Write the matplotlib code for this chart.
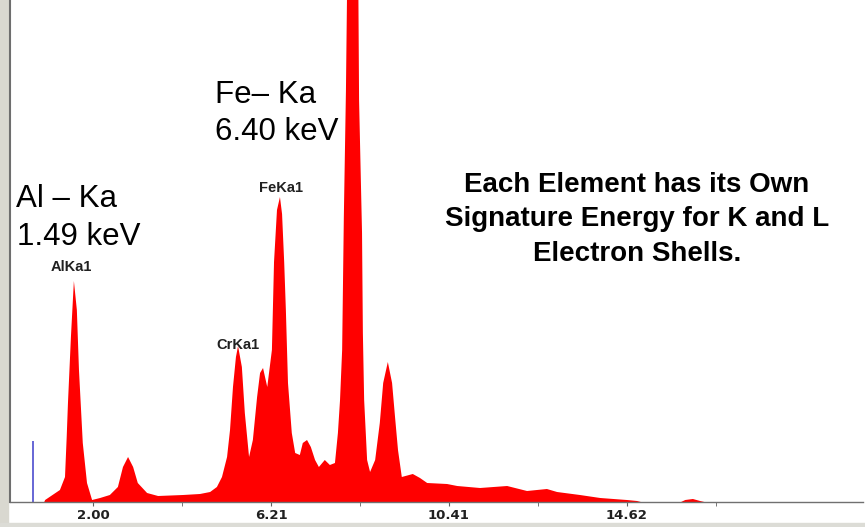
import matplotlib
matplotlib.use("Agg")
import matplotlib.pyplot as plt
from matplotlib.patches import Rectangle

# spectrum: energy (keV) and counts (arbitrary, = pixel height)
energy = [0.00, 0.85, 0.87, 1.22, 1.34, 1.38, 1.41, 1.48, 1.55, 1.62, 1.67, 1.76, 1.86,
          1.98, 2.17, 2.40, 2.59, 2.71, 2.83, 2.95, 3.06, 3.28, 3.54, 4.13, 4.53,
          4.77, 4.93, 5.05, 5.17, 5.24, 5.31, 5.38, 5.43, 5.52, 5.59, 5.69, 5.78,
          5.88, 5.95, 6.02, 6.12, 6.23, 6.28, 6.35, 6.42, 6.47, 6.52, 6.56, 6.61, 6.70,
          6.78, 6.89, 6.96, 7.06, 7.15, 7.25, 7.34, 7.48, 7.60, 7.72, 7.79, 7.84,
          7.89, 7.93, 7.98, 8.03, 8.15, 8.26, 8.29, 8.36, 8.38, 8.41, 8.48, 8.55,
          8.67, 8.78, 8.86, 8.97, 9.07, 9.14, 9.21, 9.30, 9.56, 9.73, 9.90, 10.37,
          10.61, 11.15, 11.79, 12.26, 12.73, 12.97, 13.51, 13.99, 14.62, 14.86, 14.95,
          15.90, 16.00, 16.18, 16.35, 16.45, 20.2]
counts = [0, 0, 2, 12, 25, 65, 99, 165, 221, 192, 132, 59, 19,
          2, 4, 7, 15, 35, 45, 35, 19, 9, 6, 7, 8,
          10, 15, 25, 45, 72, 115, 145, 156, 135, 89, 45, 62,
          105, 129, 134, 115, 152, 240, 292, 305, 288, 240, 192, 119, 69,
          49, 47, 59, 62, 55, 42, 35, 42, 37, 39, 69, 102,
          152, 285, 412, 600, 640, 600, 402, 269, 169, 102, 42, 30,
          42, 79, 119, 140, 119, 85, 52, 25, 28, 24, 19, 18,
          16, 14, 16, 11, 13, 10, 7, 4, 2, 1, 0,
          0, 2, 3, 1, 0, 0]

major_ticks = [2.00, 6.21, 10.41, 14.62]
minor_ticks = [4.105, 8.31, 12.515, 16.725]

# peak labels: (text, energy, counts at label centre)
peak_labels = [("AlKa1", 1.50, 235), ("CrKa1", 5.43, 157), ("FeKa1", 6.44, 314)]

W, H = 865, 527
fig = plt.figure(figsize=(W / 100, H / 100), dpi=100)
ax = fig.add_axes([10 / W, (H - 502) / H, 853 / W, 502 / H])

ax.fill_between(energy, counts, color="#ff0000", lw=0)
ax.vlines(0.58, 0, 61, color="#5a5ad2", lw=1.3)

ax.set_xlim(0.04, 20.2)
ax.set_ylim(0, 502)
for s in ("top", "right"):
    ax.spines[s].set_visible(False)
ax.spines["left"].set_color("#6e6e6e")
ax.spines["left"].set_linewidth(1.5)
ax.spines["bottom"].set_color("#707070")
ax.spines["bottom"].set_linewidth(1.0)
ax.set_yticks([])
ax.set_xticks(major_ticks)
ax.set_xticklabels([f"{t:.2f}" for t in major_ticks], fontsize=9.5,
                   fontweight="bold", color="#202020", family="DejaVu Sans")
ax.set_xticks(minor_ticks, minor=True)
ax.tick_params(axis="x", which="both", direction="out", length=3,
               color="#606060", pad=2)

for txt, e, c in peak_labels:
    ax.text(e, c, txt, ha="center", va="center", fontsize=10.5,
            fontweight="bold", family="Liberation Sans", color="#202020")

# window frame strips
fig.patches.append(Rectangle((0, 0), 8 / W, 1, transform=fig.transFigure,
                             color="#d9d8d0", zorder=-1))
fig.patches.append(Rectangle((0, 0), 1, 4 / H, transform=fig.transFigure,
                             color="#dcdcd6", zorder=-1))


def ftext(x, y, s, **kw):
    fig.text(x / W, 1 - y / H, s, va="baseline", family="Liberation Sans", **kw)


ftext(16, 207, "Al – Ka", fontsize=22.5)
ftext(17, 245, "1.49 keV", fontsize=22.5)
ftext(215, 103, "Fe– Ka", fontsize=22.5)
ftext(215, 140, "6.40 keV", fontsize=22.5)

note = ["Each Element has its Own", "Signature Energy for K and L",
        "Electron Shells."]
for i, line in enumerate(note):
    ftext(637, 192 + i * 34.5, line, fontsize=20, fontweight="bold",
          ha="center")

fig.savefig("out.png", dpi=100)
